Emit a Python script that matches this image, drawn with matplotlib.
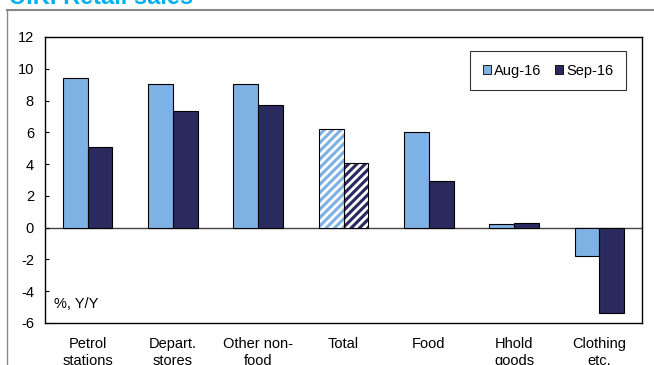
import numpy as np
import matplotlib.pyplot as plt
from matplotlib.lines import Line2D

plt.rcParams['font.family'] = ['Liberation Sans', 'DejaVu Sans']
plt.rcParams['hatch.linewidth'] = 2.0
plt.rcParams['axes.unicode_minus'] = False

# -----------------------------
# data
# -----------------------------
categories = ["Petrol\nstations", "Depart.\nstores", "Other non-\nfood", "Total",
              "Food", "Hhold\ngoods", "Clothing\netc."]
aug16 = [9.4, 9.05, 9.05, 6.2, 6.05, 0.25, -1.8]
sep16 = [5.1, 7.35, 7.7, 4.1, 2.95, 0.3, -5.4]
series_names = ["Aug-16", "Sep-16"]
hatched = "Total"

c_aug = "#7EB2E4"
c_sep = "#2A2A5E"

fig = plt.figure(figsize=(6.54, 3.65), dpi=100)
ax = fig.add_axes([45 / 654, 1 - 323 / 365, 597 / 654, 286 / 365])

x = np.arange(len(categories))
w = 0.29
for i, cat in enumerate(categories):
    hatch = '////' if cat == hatched else None
    for vals, col, off in ((aug16, c_aug, -w / 2), (sep16, c_sep, w / 2)):
        if hatch:
            # stripes in white over the fill, then a plain black outline
            ax.bar(x[i] + off, vals[i], w, color=col, edgecolor='white',
                   hatch=hatch, linewidth=0, zorder=2)
            ax.bar(x[i] + off, vals[i], w, fill=False, edgecolor='black',
                   linewidth=0.8, zorder=3)
        else:
            ax.bar(x[i] + off, vals[i], w, color=col, edgecolor='black',
                   linewidth=0.8, zorder=2)

ax.axhline(0, color='#444444', linewidth=1.0, zorder=1)

ax.set_xlim(-0.5, len(categories) - 0.5)
ax.set_ylim(-6, 12)
ax.set_yticks(np.arange(-6, 13, 2))
ax.set_xticks(x)
ax.set_xticklabels(categories, fontsize=10.5, linespacing=1.3)
ax.tick_params(axis='x', length=0, pad=10)
ax.tick_params(axis='y', direction='in', length=3, labelsize=10.5, pad=8)
for s in ax.spines.values():
    s.set_linewidth(1.0)

ax.text(0.015, 0.065, "%, Y/Y", transform=ax.transAxes, fontsize=10.5, va='center')

handles = [plt.Rectangle((0, 0), 1, 1, facecolor=c_aug, edgecolor='black', linewidth=0.6),
           plt.Rectangle((0, 0), 1, 1, facecolor=c_sep, edgecolor='black', linewidth=0.6)]
leg = ax.legend(handles, series_names, loc='upper right', bbox_to_anchor=(0.973, 0.95),
                ncol=2, fontsize=10.5, frameon=True, fancybox=False,
                handlelength=0.6, handleheight=0.6, handletextpad=0.2,
                columnspacing=0.9, borderpad=0.85, borderaxespad=0)
leg.get_frame().set_edgecolor('black')
leg.get_frame().set_linewidth(0.8)

# outer frame and the clipped title above it
fig.add_artist(Line2D([7 / 654, 1], [1 - 10 / 365] * 2, color='#888888', linewidth=1.5))
fig.add_artist(Line2D([7 / 654] * 2, [0, 1 - 10 / 365], color='#888888', linewidth=1.0))
fig.text(9 / 654, 1 - 3.5 / 365, "U.K. Retail sales", color='#00B0F0', fontsize=17,
         fontweight='bold', va='baseline', ha='left')

fig.savefig("out.png", dpi=100)
